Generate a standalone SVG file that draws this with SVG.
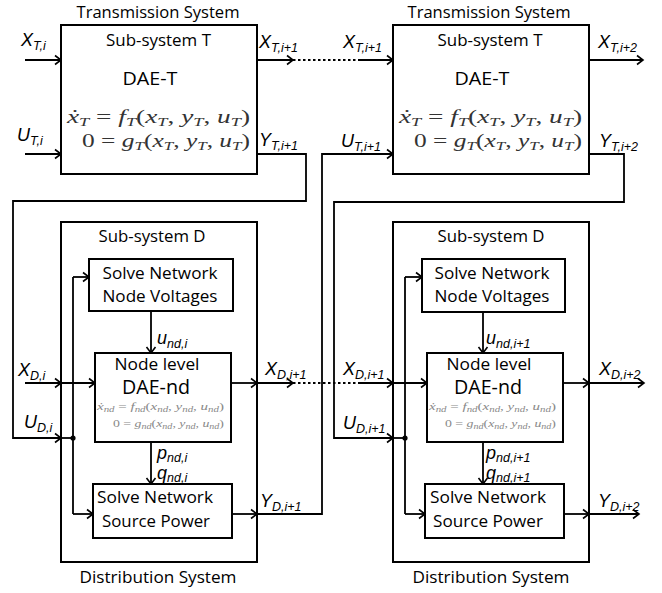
<svg xmlns="http://www.w3.org/2000/svg" width="662" height="593" viewBox="0 0 662 593">
<defs>
<marker id="ah" markerUnits="userSpaceOnUse" markerWidth="10" markerHeight="12" refX="7" refY="5" orient="auto" overflow="visible">
<path d="M1,0.5 L7,5 L1,9.5" fill="none" stroke="#000" stroke-width="1.6"/>
</marker>
<style>
.box{fill:#fff;stroke:#000;stroke-width:2}
.ln{fill:none;stroke:#000;stroke-width:1.8}
.arr{fill:none;stroke:#000;stroke-width:1.8;marker-end:url(#ah)}
.dot{fill:none;stroke:#000;stroke-width:1.8;stroke-dasharray:2.5,2.5}
.t{font-family:"Open Sans","Liberation Sans",sans-serif;fill:#000}
.c{text-anchor:middle}
.lbl{font-family:"Liberation Sans","Open Sans",sans-serif;font-style:italic;font-size:18px;fill:#000}
.sub{font-size:12.5px}
.eq{font-family:"Liberation Serif","DejaVu Serif",serif;font-size:18px;fill:#333}
.eqs{font-family:"Liberation Serif","DejaVu Serif",serif;font-size:11px;fill:#888}
.i{font-style:italic}
</style>
</defs>

<g id="connectors">
<path class="arr" d="M25,60 H61"/>
<path class="arr" d="M25,154 H61"/>
<path class="arr" d="M257,60 H293"/>
<path class="dot" d="M293,60 H358"/>
<path class="arr" d="M358,60 H393"/>
<path class="arr" d="M589,60 H643"/>
<path class="arr" d="M257,154 H306 V201 H13 V438 H61"/>
<path class="ln" d="M61,438 H73"/>
<path class="ln" d="M73,277 V514"/>
<path class="arr" d="M73,277 H89"/>
<path class="arr" d="M73,514 H93"/>
<circle cx="73" cy="438" r="2.6" fill="#000"/>
<path class="arr" d="M151,311 V353"/>
<path class="arr" d="M151,442 V484"/>
<path class="arr" d="M25,383 H61"/>
<path class="arr" d="M61,383 H95"/>
<path class="arr" d="M231,383 H257"/>
<path class="arr" d="M257,383 H293"/>
<path class="dot" d="M293,383 H358"/>
<path class="arr" d="M358,383 H393"/>
<path class="arr" d="M393,383 H427"/>
<path class="arr" d="M232,514 H257"/>
<path class="arr" d="M257,514 H322 V154 H393"/>
<path class="arr" d="M589,154 H624 V202 H334 V438 H393"/>
<path class="ln" d="M393,438 H405"/>
<path class="ln" d="M405,277 V514"/>
<path class="arr" d="M405,277 H422"/>
<path class="arr" d="M405,514 H425"/>
<circle cx="405" cy="438" r="2.6" fill="#000"/>
<path class="arr" d="M483,312 V353"/>
<path class="arr" d="M483,442 V484"/>
<path class="arr" d="M563,383 H589"/>
<path class="arr" d="M589,383 H644"/>
<path class="arr" d="M564,514 H589"/>
<path class="arr" d="M589,514 H639"/>
</g>

<g id="labels">
<text class="lbl" x="21" y="46">X<tspan class="sub" dy="4">T,i</tspan></text>
<text class="lbl" x="17" y="141">U<tspan class="sub" dy="4">T,i</tspan></text>
<text class="lbl" x="259" y="48">X<tspan class="sub" dy="4">T,i+1</tspan></text>
<text class="lbl" x="259" y="146">Y<tspan class="sub" dy="4">T,i+1</tspan></text>
<text class="lbl" x="343" y="48">X<tspan class="sub" dy="4">T,i+1</tspan></text>
<text class="lbl" x="341" y="147">U<tspan class="sub" dy="4">T,i+1</tspan></text>
<text class="lbl" x="598" y="48">X<tspan class="sub" dy="4">T,i+2</tspan></text>
<text class="lbl" x="599" y="147">Y<tspan class="sub" dy="4">T,i+2</tspan></text>
<text class="lbl" x="18" y="376">X<tspan class="sub" dy="4">D,i</tspan></text>
<text class="lbl" x="265" y="375">X<tspan class="sub" dy="4">D,i+1</tspan></text>
<text class="lbl" x="343" y="375">X<tspan class="sub" dy="4">D,i+1</tspan></text>
<text class="lbl" x="599" y="375">X<tspan class="sub" dy="4">D,i+2</tspan></text>
<text class="lbl" x="24" y="428">U<tspan class="sub" dy="4">D,i</tspan></text>
<text class="lbl" x="343" y="429">U<tspan class="sub" dy="4">D,i+1</tspan></text>
<text class="lbl" x="260" y="507">Y<tspan class="sub" dy="4">D,i+1</tspan></text>
<text class="lbl" x="598" y="507">Y<tspan class="sub" dy="4">D,i+2</tspan></text>
<text class="lbl" x="157" y="344">u<tspan class="sub" dy="4">nd,i</tspan></text>
<text class="lbl" x="486" y="344">u<tspan class="sub" dy="4">nd,i+1</tspan></text>
<text class="lbl" x="157" y="459">p<tspan class="sub" dy="3">nd,i</tspan></text>
<text class="lbl" x="157" y="479">q<tspan class="sub" dy="3">nd,i</tspan></text>
<text class="lbl" x="486" y="459">p<tspan class="sub" dy="3">nd,i+1</tspan></text>
<text class="lbl" x="486" y="479">q<tspan class="sub" dy="3">nd,i+1</tspan></text>
</g>

<g id="transmission-1">
<text class="t c" x="158" y="18" font-size="15.5" textLength="163" lengthAdjust="spacingAndGlyphs">Transmission System</text>
<rect class="box" x="61" y="25" width="196" height="149"/>
<text class="t c" x="158.5" y="46" font-size="16" textLength="105" lengthAdjust="spacingAndGlyphs">Sub-system T</text>
<text class="t c" x="150" y="85" font-size="18" textLength="55" lengthAdjust="spacingAndGlyphs">DAE-T</text>
<text class="eq" x="67" y="123" textLength="183" lengthAdjust="spacingAndGlyphs"><tspan class="i">ẋ</tspan><tspan class="i" font-size="12" dy="3">T</tspan><tspan dy="-3"> = </tspan><tspan class="i">f</tspan><tspan class="i" font-size="12" dy="3">T</tspan><tspan dy="-3">(</tspan><tspan class="i">x</tspan><tspan class="i" font-size="12" dy="3">T</tspan><tspan dy="-3">, </tspan><tspan class="i">y</tspan><tspan class="i" font-size="12" dy="3">T</tspan><tspan dy="-3">, </tspan><tspan class="i">u</tspan><tspan class="i" font-size="12" dy="3">T</tspan><tspan dy="-3">)</tspan></text>
<text class="eq" x="82" y="147" textLength="168" lengthAdjust="spacingAndGlyphs">0 = <tspan class="i">g</tspan><tspan class="i" font-size="12" dy="3">T</tspan><tspan dy="-3">(</tspan><tspan class="i">x</tspan><tspan class="i" font-size="12" dy="3">T</tspan><tspan dy="-3">, </tspan><tspan class="i">y</tspan><tspan class="i" font-size="12" dy="3">T</tspan><tspan dy="-3">, </tspan><tspan class="i">u</tspan><tspan class="i" font-size="12" dy="3">T</tspan><tspan dy="-3">)</tspan></text>
</g>

<g id="transmission-2">
<text class="t c" x="489" y="18" font-size="15.5" textLength="163" lengthAdjust="spacingAndGlyphs">Transmission System</text>
<rect class="box" x="393" y="25" width="196" height="149"/>
<text class="t c" x="490" y="46" font-size="16" textLength="105" lengthAdjust="spacingAndGlyphs">Sub-system T</text>
<text class="t c" x="482" y="85" font-size="18" textLength="55" lengthAdjust="spacingAndGlyphs">DAE-T</text>
<text class="eq" x="399" y="123" textLength="183" lengthAdjust="spacingAndGlyphs"><tspan class="i">ẋ</tspan><tspan class="i" font-size="12" dy="3">T</tspan><tspan dy="-3"> = </tspan><tspan class="i">f</tspan><tspan class="i" font-size="12" dy="3">T</tspan><tspan dy="-3">(</tspan><tspan class="i">x</tspan><tspan class="i" font-size="12" dy="3">T</tspan><tspan dy="-3">, </tspan><tspan class="i">y</tspan><tspan class="i" font-size="12" dy="3">T</tspan><tspan dy="-3">, </tspan><tspan class="i">u</tspan><tspan class="i" font-size="12" dy="3">T</tspan><tspan dy="-3">)</tspan></text>
<text class="eq" x="414" y="147" textLength="168" lengthAdjust="spacingAndGlyphs">0 = <tspan class="i">g</tspan><tspan class="i" font-size="12" dy="3">T</tspan><tspan dy="-3">(</tspan><tspan class="i">x</tspan><tspan class="i" font-size="12" dy="3">T</tspan><tspan dy="-3">, </tspan><tspan class="i">y</tspan><tspan class="i" font-size="12" dy="3">T</tspan><tspan dy="-3">, </tspan><tspan class="i">u</tspan><tspan class="i" font-size="12" dy="3">T</tspan><tspan dy="-3">)</tspan></text>
</g>

<g id="distribution-1">
<rect class="box" x="61" y="222" width="196" height="340" style="fill:none"/>
<text class="t c" x="152" y="242" font-size="16" textLength="107" lengthAdjust="spacingAndGlyphs">Sub-system D</text>
<text class="t c" x="158" y="583" font-size="16" textLength="157" lengthAdjust="spacingAndGlyphs">Distribution System</text>
</g>
<g id="node-voltages-1">
<rect class="box" x="89" y="259" width="144" height="52"/>
<text class="t c" x="160" y="279" font-size="17" textLength="115" lengthAdjust="spacingAndGlyphs">Solve Network</text>
<text class="t c" x="160" y="302" font-size="17" textLength="115" lengthAdjust="spacingAndGlyphs">Node Voltages</text>
</g>
<g id="dae-nd-1">
<rect class="box" x="95" y="353" width="136" height="89"/>
<text class="t c" x="157" y="370" font-size="16.5" textLength="85" lengthAdjust="spacingAndGlyphs">Node level</text>
<text class="t c" x="156" y="394" font-size="20" textLength="68" lengthAdjust="spacingAndGlyphs">DAE-nd</text>
<text class="eqs" x="97" y="410" textLength="127" lengthAdjust="spacingAndGlyphs"><tspan class="i">ẋ</tspan><tspan class="i" font-size="8" dy="2">nd</tspan><tspan dy="-2"> = </tspan><tspan class="i">f</tspan><tspan class="i" font-size="8" dy="2">nd</tspan><tspan dy="-2">(</tspan><tspan class="i">x</tspan><tspan class="i" font-size="8" dy="2">nd</tspan><tspan dy="-2">, </tspan><tspan class="i">y</tspan><tspan class="i" font-size="8" dy="2">nd</tspan><tspan dy="-2">, </tspan><tspan class="i">u</tspan><tspan class="i" font-size="8" dy="2">nd</tspan><tspan dy="-2">)</tspan></text>
<text class="eqs" x="113" y="427" textLength="111" lengthAdjust="spacingAndGlyphs">0 = <tspan class="i">g</tspan><tspan class="i" font-size="8" dy="2">nd</tspan><tspan dy="-2">(</tspan><tspan class="i">x</tspan><tspan class="i" font-size="8" dy="2">nd</tspan><tspan dy="-2">, </tspan><tspan class="i">y</tspan><tspan class="i" font-size="8" dy="2">nd</tspan><tspan dy="-2">, </tspan><tspan class="i">u</tspan><tspan class="i" font-size="8" dy="2">nd</tspan><tspan dy="-2">)</tspan></text>
</g>
<g id="source-power-1">
<rect class="box" x="93" y="484" width="139" height="54"/>
<text class="t c" x="155" y="503" font-size="17" textLength="116" lengthAdjust="spacingAndGlyphs">Solve Network</text>
<text class="t c" x="156" y="527" font-size="17" textLength="108" lengthAdjust="spacingAndGlyphs">Source Power</text>
</g>

<g id="distribution-2">
<rect class="box" x="393" y="222" width="196" height="340" style="fill:none"/>
<text class="t c" x="491" y="242" font-size="16" textLength="107" lengthAdjust="spacingAndGlyphs">Sub-system D</text>
<text class="t c" x="491" y="583" font-size="16" textLength="157" lengthAdjust="spacingAndGlyphs">Distribution System</text>
</g>
<g id="node-voltages-2">
<rect class="box" x="422" y="259" width="143" height="53"/>
<text class="t c" x="492" y="279" font-size="17" textLength="115" lengthAdjust="spacingAndGlyphs">Solve Network</text>
<text class="t c" x="492" y="302" font-size="17" textLength="115" lengthAdjust="spacingAndGlyphs">Node Voltages</text>
</g>
<g id="dae-nd-2">
<rect class="box" x="427" y="353" width="136" height="89"/>
<text class="t c" x="489" y="370" font-size="16.5" textLength="85" lengthAdjust="spacingAndGlyphs">Node level</text>
<text class="t c" x="488" y="394" font-size="20" textLength="68" lengthAdjust="spacingAndGlyphs">DAE-nd</text>
<text class="eqs" x="429" y="410" textLength="127" lengthAdjust="spacingAndGlyphs"><tspan class="i">ẋ</tspan><tspan class="i" font-size="8" dy="2">nd</tspan><tspan dy="-2"> = </tspan><tspan class="i">f</tspan><tspan class="i" font-size="8" dy="2">nd</tspan><tspan dy="-2">(</tspan><tspan class="i">x</tspan><tspan class="i" font-size="8" dy="2">nd</tspan><tspan dy="-2">, </tspan><tspan class="i">y</tspan><tspan class="i" font-size="8" dy="2">nd</tspan><tspan dy="-2">, </tspan><tspan class="i">u</tspan><tspan class="i" font-size="8" dy="2">nd</tspan><tspan dy="-2">)</tspan></text>
<text class="eqs" x="445" y="427" textLength="111" lengthAdjust="spacingAndGlyphs">0 = <tspan class="i">g</tspan><tspan class="i" font-size="8" dy="2">nd</tspan><tspan dy="-2">(</tspan><tspan class="i">x</tspan><tspan class="i" font-size="8" dy="2">nd</tspan><tspan dy="-2">, </tspan><tspan class="i">y</tspan><tspan class="i" font-size="8" dy="2">nd</tspan><tspan dy="-2">, </tspan><tspan class="i">u</tspan><tspan class="i" font-size="8" dy="2">nd</tspan><tspan dy="-2">)</tspan></text>
</g>
<g id="source-power-2">
<rect class="box" x="425" y="484" width="139" height="54"/>
<text class="t c" x="488" y="503" font-size="17" textLength="116" lengthAdjust="spacingAndGlyphs">Solve Network</text>
<text class="t c" x="488" y="527" font-size="17" textLength="110" lengthAdjust="spacingAndGlyphs">Source Power</text>
</g>
</svg>
